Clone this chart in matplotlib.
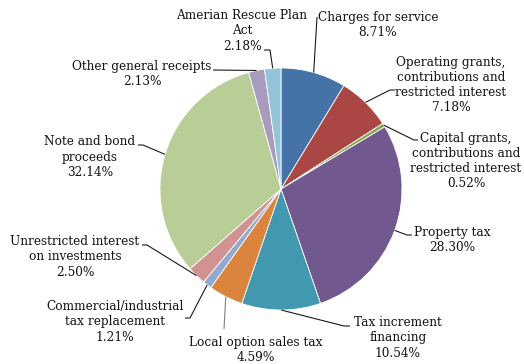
import numpy as np
import matplotlib.pyplot as plt

# slices, clockwise from 12 o'clock
names = ['Charges for service',
         'Operating grants,\ncontributions and\nrestricted interest',
         'Capital grants,\ncontributions and\nrestricted interest',
         'Property tax',
         'Tax increment\nfinancing',
         'Local option sales tax',
         'Commercial/industrial\ntax replacement',
         'Unrestricted interest\non investments',
         'Note and bond\nproceeds',
         'Other general receipts',
         'Amerian Rescue Plan\nAct']
shares = [8.71, 7.18, 0.52, 28.30, 10.54, 4.59, 1.21, 2.50, 32.14, 2.13, 2.18]
colors = ['#4572A7', '#AA4643', '#89A54E', '#71588F', '#4198AF', '#DB843D',
          '#93A9CF', '#D19392', '#B9CD96', '#A99BBD', '#92C5DA']

# label layout in pixels (x from left, y from top)
cx, cy, rad = 281, 189, 121
text_pos = [(378, 25), (451, 85), (466, 161), (452, 240), (398, 338),
            (256, 350), (115, 322), (75, 257), (90, 157), (142, 74), (242, 31)]
# leader path from label side; last point is added at the slice edge
leader = [[(317, 17)],
          [(395, 90), (390, 90)],
          [(418, 140), (414, 140)],
          [(412, 235), (407, 235)],
          [(350, 326), (344, 326)],
          [(224, 329)],
          [(185, 318), (190, 318)],
          [(142, 245), (147, 245)],
          [(138, 145), (143, 145)],
          [(213, 70)],
          [(264, 50), (270, 50)]]

fig = plt.figure(figsize=(5.24, 3.64), dpi=100)
ax = fig.add_axes([0, 0, 1, 1])
ax.pie(shares, colors=colors, radius=rad, center=(cx, cy), startangle=-90,
       counterclock=True,
       wedgeprops=dict(edgecolor='white', linewidth=0.6))
ax.set_xlim(0, 524)
ax.set_ylim(364, 0)
ax.set_aspect('equal')
ax.axis('off')

cum = np.cumsum(shares) - np.array(shares) / 2
for i, name in enumerate(names):
    ang = np.deg2rad(-90 + cum[i] * 3.6)
    ex, ey = cx + rad * np.cos(ang), cy + rad * np.sin(ang)
    pts = leader[i] + [(ex, ey)]
    lc = '#7f7f7f' if i == 5 else '#1a1a1a'
    ax.plot([p[0] for p in pts], [p[1] for p in pts], color=lc, lw=0.8,
            solid_capstyle='butt')
    ax.text(text_pos[i][0], text_pos[i][1], name + '\n%.2f%%' % shares[i],
            ha='center', va='center', fontsize=8.7, family='DejaVu Serif',
            color='#141414', linespacing=1.22)

plt.savefig('out.png', dpi=100)
